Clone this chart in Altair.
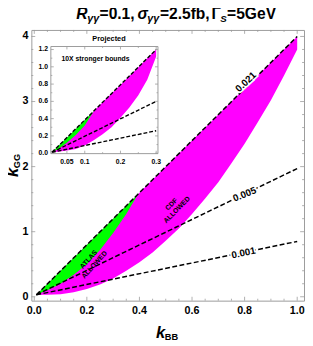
import altair as alt
import pandas as pd

# ---------------- data ----------------
kbb = [0.008, 0.05, 0.1, 0.15, 0.2, 0.25, 0.3, 0.35, 0.4, 0.45, 0.5,
       0.55, 0.6, 0.65, 0.7, 0.75, 0.8, 0.85, 0.9, 0.95, 1.0]
cdf_hi = [0.03, 0.2, 0.4, 0.6, 0.8, 1.0, 1.2, 1.4, 1.6, 1.8, 2.0,
          2.2, 2.4, 2.6, 2.8, 3.0, 3.2, 3.4, 3.6, 3.8, 4.0]
cdf_lo = [0.03, 0.03, 0.04, 0.07, 0.12, 0.19, 0.28, 0.40, 0.53, 0.68, 0.86,
          1.05, 1.27, 1.51, 1.76, 2.05, 2.35, 2.68, 3.02, 3.40, 3.80]
atlas_kbb = [0.008, 0.05, 0.1, 0.15, 0.2, 0.25, 0.3, 0.35, 0.395]
atlas_hi = [0.03, 0.2, 0.4, 0.6, 0.8, 1.0, 1.2, 1.4, 1.58]
atlas_lo = [0.03, 0.1, 0.2, 0.34, 0.5, 0.72, 0.98, 1.27, 1.58]

line_kbb = [0.008, 1.0]
line_names = ["0.021", "0.005", "0.001"]
line_kgg = [[0.03, 4.0], [0.03, 1.97], [0.03, 0.85]]
line_label_x = [0.805, 0.80, 0.796]
line_label_y = [3.30, 1.57, 0.67]

region_text = ["CDF\nALLOWED", "ATLAS\nALLOWED"]
region_x = [0.522, 0.207]
region_y = [1.42, 0.57]

inset_kbb = [0.01, 0.03, 0.05, 0.075, 0.1, 0.125, 0.15, 0.175, 0.2, 0.225, 0.25, 0.275, 0.3]
inset_cdf_hi = [0.018, 0.10, 0.18, 0.28, 0.385, 0.487, 0.589, 0.69, 0.79, 0.894, 0.996, 1.098, 1.2]
inset_cdf_lo = [0.01, 0.02, 0.03, 0.05, 0.09, 0.15, 0.22, 0.30, 0.41, 0.53, 0.67, 0.85, 1.12]
inset_atlas_kbb = [0.01, 0.03, 0.05, 0.075, 0.1, 0.125]
inset_atlas_hi = [0.018, 0.10, 0.18, 0.28, 0.385, 0.487]
inset_atlas_lo = [0.012, 0.06, 0.12, 0.21, 0.32, 0.487]
inset_line_kbb = [0.008, 0.3]
inset_line_kgg = [[0.01, 1.2], [0.01, 0.6], [0.01, 0.26]]

x_major = [0, 0.2, 0.4, 0.6, 0.8, 1.0]
x_labels = ["0.0", "0.2", "0.4", "0.6", "0.8", "1.0"]
x_minor = [0.05, 0.1, 0.15, 0.25, 0.3, 0.35, 0.45, 0.5, 0.55, 0.65, 0.7, 0.75, 0.85, 0.9, 0.95]
y_major = [0, 1, 2, 3, 4]
y_labels = ["0", "1", "2", "3", "4"]
y_minor = [0.2, 0.4, 0.6, 0.8, 1.2, 1.4, 1.6, 1.8, 2.2, 2.4, 2.6, 2.8, 3.2, 3.4, 3.6, 3.8]
ix_major = [0.05, 0.1, 0.2, 0.3]
ix_labels = ["0.05", "0.1", "0.2", "0.3"]
ix_minor = [0.15, 0.25]
iy_major = [0.0, 0.2, 0.4, 0.6, 0.8, 1.0, 1.2]
iy_labels = ["0.0", "0.2", "0.4", "0.6", "0.8", "1.0", "1.2"]
iy_minor = [0.1, 0.3, 0.5, 0.7, 0.9, 1.1]

# ---------------- styling ----------------
W, H = 280, 278
FONT = "Liberation Sans"
MAGENTA = "#ff00ff"
GREEN = "#00ff00"
FRAME = "#9a9a9a"
IL, IR, IT, IB = 20, 130, 17, 127  # inset frame inside plot area (pixels)

xs = alt.Scale(domain=[-0.011, 1.026], nice=False, zero=False)
ys = alt.Scale(domain=[-0.06, 4.10], nice=False, zero=False)
ixs = alt.Scale(domain=[0.005, 0.305], range=[IL, IR], nice=False, zero=False)
iys = alt.Scale(domain=[-0.005, 1.235], range=[IB, IT], nice=False, zero=False)

one = pd.DataFrame({"a": [0]})


def txt(text, x, y, size, style="normal", align="left", angle=0):
    return alt.Chart(one).mark_text(
        text=text, font=FONT, fontSize=size, fontStyle=style, fontWeight="bold",
        align=align, baseline="alphabetic", angle=angle, color="black"
    ).encode(x=alt.value(x), y=alt.value(y))


def tick_layers(vals, chan, scale, lo, hi, length):
    df = pd.DataFrame({"v": vals})
    out = []
    for edge, sign in ((lo, 1), (hi, -1)):
        base = alt.Chart(df).mark_rule(color=FRAME, strokeWidth=0.8)
        if chan == "x":
            out.append(base.encode(x=alt.X("v:Q", scale=scale, axis=None),
                                   y=alt.value(edge), y2=alt.value(edge + sign * length)))
        else:
            out.append(base.encode(y=alt.Y("v:Q", scale=scale, axis=None),
                                   x=alt.value(edge), x2=alt.value(edge + sign * length)))
    return out


def tick_labels(vals, labels, chan, scale, pos, size):
    df = pd.DataFrame({"v": vals, "lab": labels})
    if chan == "x":
        return alt.Chart(df).mark_text(font=FONT, fontSize=size, fontWeight="bold", color="black",
                                       align="center", baseline="alphabetic").encode(
            x=alt.X("v:Q", scale=scale, axis=None), y=alt.value(pos), text="lab:N")
    return alt.Chart(df).mark_text(font=FONT, fontSize=size, fontWeight="bold", color="black",
                                   align="right", baseline="middle").encode(
        y=alt.Y("v:Q", scale=scale, axis=None), x=alt.value(pos), text="lab:N")


# ---------------- main panel ----------------
df_cdf = pd.DataFrame({"x": kbb, "lo": cdf_lo, "hi": cdf_hi})
df_atlas = pd.DataFrame({"x": atlas_kbb, "lo": atlas_lo, "hi": atlas_hi})
rows = []
for name, ys_ in zip(line_names, line_kgg):
    for xv, yv in zip(line_kbb, ys_):
        rows.append({"set": name, "x": xv, "y": yv})
df_lines = pd.DataFrame(rows)

cdf = alt.Chart(df_cdf).mark_area(color=MAGENTA, opacity=1).encode(
    x=alt.X("x:Q", scale=xs, axis=None), y=alt.Y("lo:Q", scale=ys, axis=None), y2="hi:Q")
atlas = alt.Chart(df_atlas).mark_area(color=GREEN, opacity=1).encode(
    x=alt.X("x:Q", scale=xs, axis=None), y=alt.Y("lo:Q", scale=ys, axis=None), y2="hi:Q")
lines = alt.Chart(df_lines).mark_line(color="black", strokeWidth=1.5, strokeDash=[5, 2.5]).encode(
    x=alt.X("x:Q", scale=xs, axis=None), y=alt.Y("y:Q", scale=ys, axis=None), detail="set:N")

main_layers = [cdf, atlas, lines]

angles = [317, 338, 348]
for name, lx, ly, ang in zip(line_names, line_label_x, line_label_y, angles):
    d = pd.DataFrame({"x": [lx], "y": [ly], "t": [name]})
    for halo in (True, False):
        kw = dict(stroke="white", strokeWidth=3.5) if halo else {}
        main_layers.append(alt.Chart(d).mark_text(
            font=FONT, fontSize=10, fontWeight="bold", angle=ang, align="center",
            baseline="middle", color="black", **kw
        ).encode(x=alt.X("x:Q", scale=xs, axis=None), y=alt.Y("y:Q", scale=ys, axis=None), text="t:N"))

for t, rx, ry, ang in zip(region_text, region_x, region_y, [315, 312]):
    d = pd.DataFrame({"x": [rx], "y": [ry], "t": [t]})
    main_layers.append(alt.Chart(d).mark_text(
        font=FONT, fontSize=7, fontWeight="bold", angle=ang, align="center",
        baseline="middle", color="black", lineBreak="\n", lineHeight=8
    ).encode(x=alt.X("x:Q", scale=xs, axis=None), y=alt.Y("y:Q", scale=ys, axis=None), text="t:N"))

main_layers += tick_layers(x_major, "x", xs, 0, H, 4)
main_layers += tick_layers(x_minor, "x", xs, 0, H, 2)
main_layers += tick_layers(y_major, "y", ys, 0, W, 4)
main_layers += tick_layers(y_minor, "y", ys, 0, W, 2)
main_layers.append(tick_labels(x_major, x_labels, "x", xs, 292, 11))
main_layers.append(tick_labels(y_major, y_labels, "y", ys, -3, 11))

# title and axis titles (rich text pieces)
title_pieces = [
    ("R", 46, -11, 16, "italic"), ("γγ", 57.5, -8, 11, "italic"), ("=0.1,", 70, -11, 16, "normal"),
    ("σ", 109, -11, 16, "italic"), ("γγ", 119, -8, 11, "italic"), ("=2.5fb,", 132, -11, 16, "normal"),
    ("Γ", 185, -11, 16, "normal"), ("S", 194, -8, 10, "italic"), ("=5GeV", 201, -11, 16, "normal"),
]
for t, x, y, s, st in title_pieces:
    main_layers.append(txt(t, x, y, s, st))
main_layers.append(txt("k", 128, 316, 17, "italic"))
main_layers.append(txt("BB", 137, 318, 9.5))
main_layers.append(txt("k", -14, 151, 17, "italic", angle=270))
main_layers.append(txt("GG", -12, 142, 9.5, angle=270))

main = alt.layer(*main_layers)

# ---------------- inset ----------------
df_icdf = pd.DataFrame({"x": inset_kbb, "lo": inset_cdf_lo, "hi": inset_cdf_hi})
df_iatlas = pd.DataFrame({"x": inset_atlas_kbb, "lo": inset_atlas_lo, "hi": inset_atlas_hi})
rows = []
for name, ys_ in zip(line_names, inset_line_kgg):
    for xv, yv in zip(inset_line_kbb, ys_):
        rows.append({"set": name, "x": xv, "y": yv})
df_ilines = pd.DataFrame(rows)

iframe = alt.Chart(one).mark_rect(fill="white", stroke=FRAME, strokeWidth=1).encode(
    x=alt.value(IL), x2=alt.value(IR), y=alt.value(IT), y2=alt.value(IB))
icdf = alt.Chart(df_icdf).mark_area(color=MAGENTA, opacity=1).encode(
    x=alt.X("x:Q", scale=ixs, axis=None), y=alt.Y("lo:Q", scale=iys, axis=None), y2="hi:Q")
iatlas = alt.Chart(df_iatlas).mark_area(color=GREEN, opacity=1).encode(
    x=alt.X("x:Q", scale=ixs, axis=None), y=alt.Y("lo:Q", scale=iys, axis=None), y2="hi:Q")
ilines = alt.Chart(df_ilines).mark_line(color="black", strokeWidth=1.4, strokeDash=[4, 2]).encode(
    x=alt.X("x:Q", scale=ixs, axis=None), y=alt.Y("y:Q", scale=iys, axis=None), detail="set:N")

inset_layers = [iframe, icdf, iatlas, ilines]
inset_layers += tick_layers(ix_major, "x", ixs, IT, IB, 3)
inset_layers += tick_layers(ix_minor, "x", ixs, IT, IB, 1.5)
inset_layers += tick_layers(iy_major, "y", iys, IL, IR, 3)
inset_layers += tick_layers(iy_minor, "y", iys, IL, IR, 1.5)
inset_layers.append(tick_labels(ix_major, ix_labels, "x", ixs, IB + 11, 7))
inset_layers.append(tick_labels(iy_major, iy_labels, "y", iys, IL - 3, 7))
inset_layers.append(txt("Projected", 79.7, 11.5, 7.5, align="center"))
inset_layers.append(txt("10X stronger bounds", 31, 31.5, 7))

inset = alt.layer(*inset_layers)

chart = alt.layer(main, inset).resolve_scale(x="independent", y="independent").properties(
    width=W, height=H,
    autosize=alt.AutoSizeParams(type="none"),
    padding={"left": 24, "top": 18, "right": 1, "bottom": 42},
).configure_view(stroke=FRAME, strokeWidth=1)

chart.save("out.html", embed_options={"renderer": "svg", "actions": False})
